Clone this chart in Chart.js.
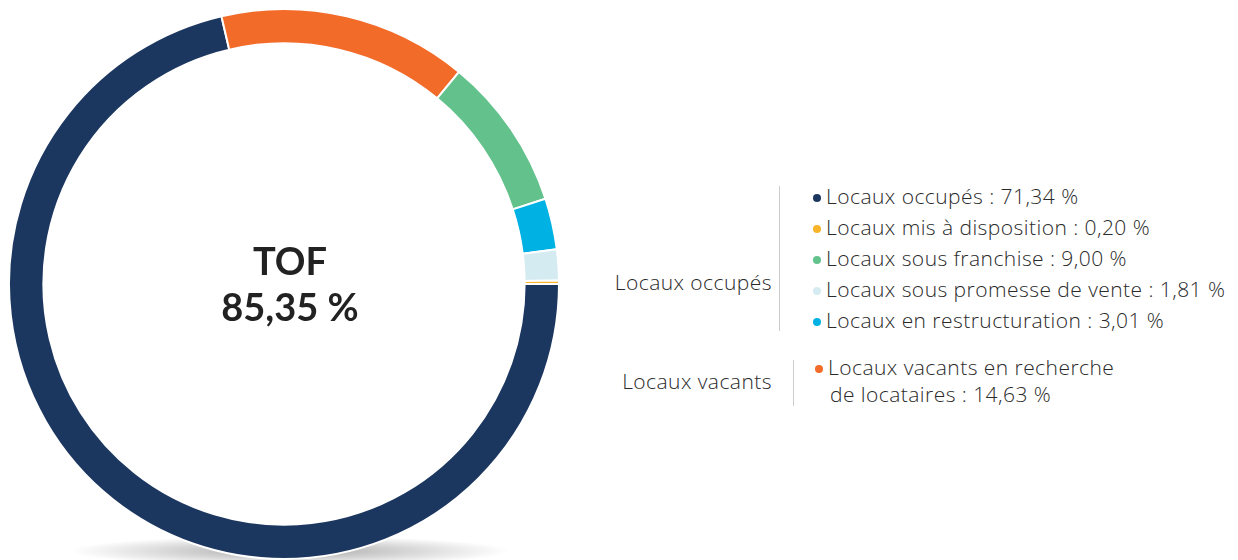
<!DOCTYPE html>
<html><head><meta charset="utf-8">
<script src="https://cdn.jsdelivr.net/npm/chart.js@4.4.1/dist/chart.umd.min.js"></script>
<style>
html,body{margin:0;padding:0;background:#fff;width:1238px;height:560px;overflow:hidden;font-family:"Open Sans",Lato,sans-serif;color:#2a2a2a;}
#wrap{position:absolute;left:8px;top:8px;width:552px;height:552px;z-index:2;}
#shadow{position:absolute;left:70px;top:536px;width:440px;height:30px;z-index:1;
 background:radial-gradient(ellipse 50% 50% at 50% 50%, rgba(0,0,0,0.35), rgba(0,0,0,0) 100%);}
#center{position:absolute;left:140px;top:237px;width:300px;text-align:center;z-index:3;font-family:Lato,sans-serif;font-weight:700;font-size:38px;line-height:46px;color:#222;}
.grp{position:absolute;font-size:21px;font-weight:300;letter-spacing:0.45px;}
.glabel{position:absolute;text-align:right;width:250px;}
.vline{position:absolute;width:1px;background:#ccc;}
.item{position:absolute;white-space:nowrap;}
.dot{display:inline-block;width:8px;height:8px;border-radius:50%;margin-right:5px;vertical-align:2px;}
</style></head>
<body>
<div id="shadow"></div>
<div id="wrap"><canvas id="c" width="552" height="552"></canvas></div>
<div id="center"></div>
<div id="legend"></div>
<script>
const labels = ["Locaux occupés","Locaux vacants en recherche de locataires","Locaux sous franchise","Locaux en restructuration","Locaux sous promesse de vente","Locaux mis à disposition"];
const values = [71.34, 14.63, 9.00, 3.01, 1.81, 0.20];
const colors = ["#1c375f","#f26b29","#63c28c","#00b2e3","#d4ecf1","#f9b42a"];
const centerTitle = "TOF";
const centerValue = "85,35 %";
const groupOccupied = "Locaux occupés";
const groupVacant = "Locaux vacants";
const occupiedOrder = [0,5,2,4,3];
const vacantLines = ["Locaux vacants en recherche","de locataires"];

const fmt = v => v.toFixed(2).replace('.', ',') + ' %';

new Chart(document.getElementById('c'), {
  type: 'doughnut',
  data: { labels: labels, datasets: [{ data: values, backgroundColor: colors, borderColor: '#fff', borderWidth: 2 }] },
  options: {
    responsive: false, animation: false, rotation: 90, cutout: '87.5%',
    layout: { padding: 0 },
    plugins: { legend: { display: false }, tooltip: { enabled: false } }
  }
});

document.getElementById('center').innerHTML = centerTitle + '<br>' + centerValue;

let html = '';
html += '<div class="grp glabel" style="left:522px;top:268px;">' + groupOccupied + '</div>';
html += '<div class="vline" style="left:779px;top:186px;height:145px;"></div>';
occupiedOrder.forEach((idx, i) => {
  html += '<div class="grp item" style="left:813px;top:' + (182 + i*31) + 'px;"><span class="dot" style="background:' + colors[idx] + '"></span>' + labels[idx] + ' : ' + fmt(values[idx]) + '</div>';
});
html += '<div class="grp glabel" style="left:522px;top:367px;">' + groupVacant + '</div>';
html += '<div class="vline" style="left:793px;top:360px;height:46px;"></div>';
html += '<div class="grp item" style="left:815px;top:353px;"><span class="dot" style="background:' + colors[1] + '"></span>' + vacantLines[0] + '</div>';
html += '<div class="grp item" style="left:830px;top:380px;">' + vacantLines[1] + ' : ' + fmt(values[1]) + '</div>';
document.getElementById('legend').innerHTML = html;
</script>
</body></html>
